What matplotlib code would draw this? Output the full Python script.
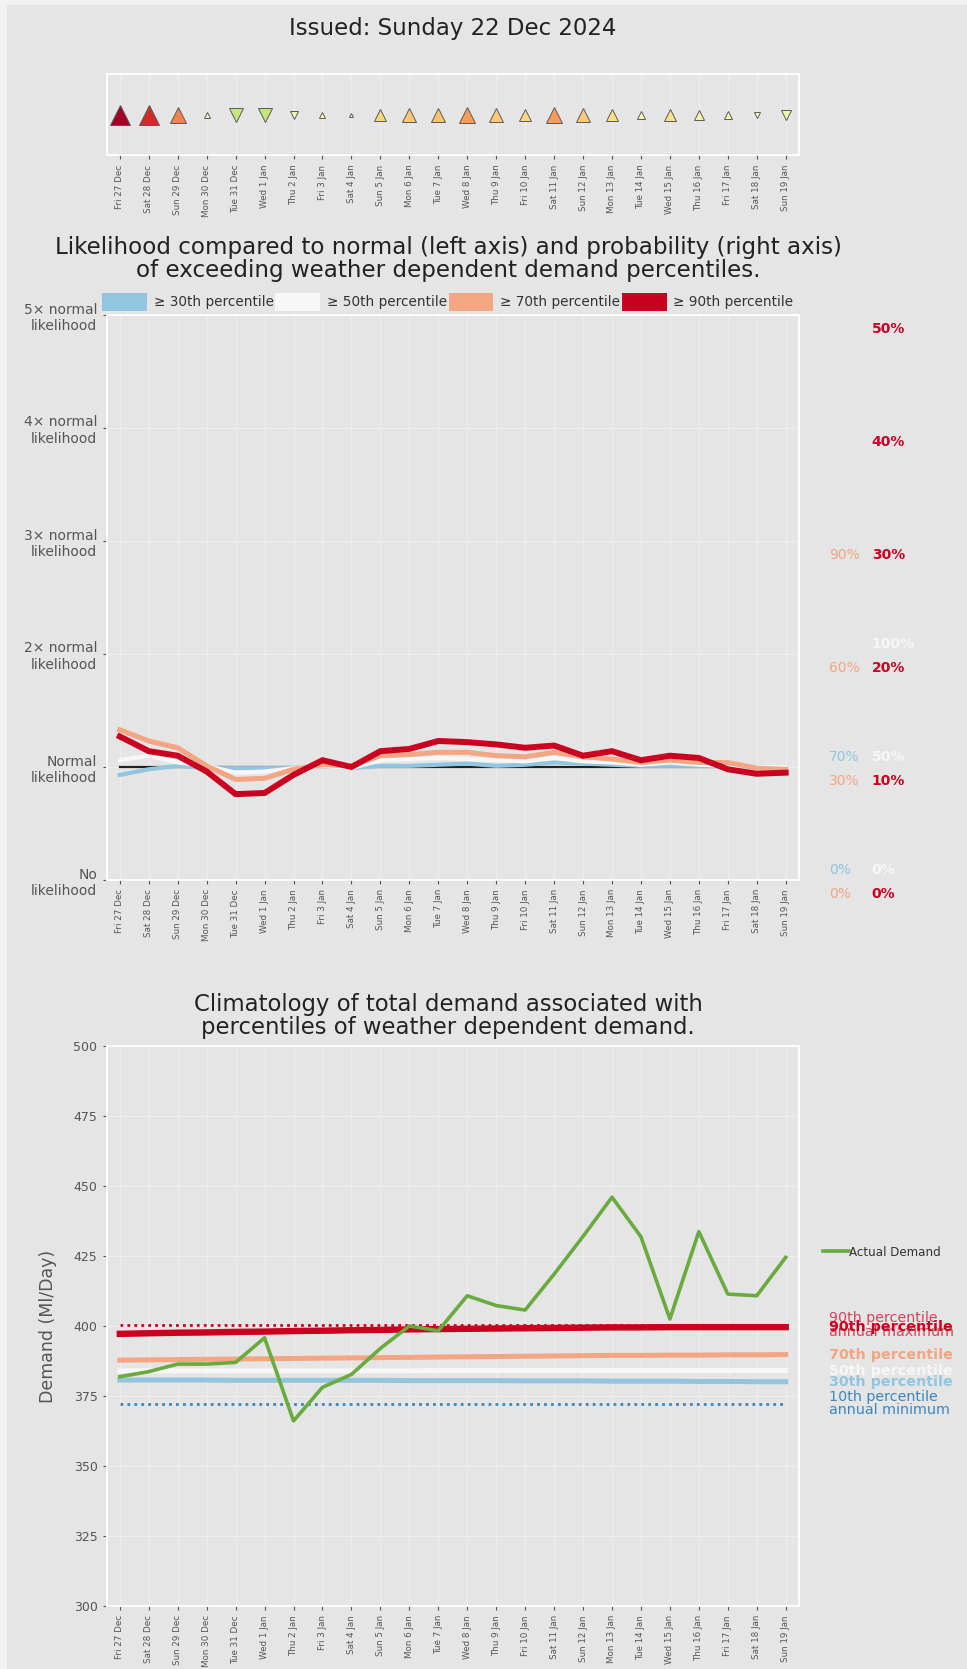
import numpy as np
import matplotlib
matplotlib.use("Agg")
import matplotlib.pyplot as plt
import matplotlib.transforms as mtransforms
from matplotlib.patches import Patch, Rectangle
from matplotlib.lines import Line2D

# ---------------------------------------------------------------- data
dates = ["Fri 27 Dec", "Sat 28 Dec", "Sun 29 Dec", "Mon 30 Dec", "Tue 31 Dec",
         "Wed 1 Jan", "Thu 2 Jan", "Fri 3 Jan", "Sat 4 Jan", "Sun 5 Jan",
         "Mon 6 Jan", "Tue 7 Jan", "Wed 8 Jan", "Thu 9 Jan", "Fri 10 Jan",
         "Sat 11 Jan", "Sun 12 Jan", "Mon 13 Jan", "Tue 14 Jan", "Wed 15 Jan",
         "Thu 16 Jan", "Fri 17 Jan", "Sat 18 Jan", "Sun 19 Jan"]

# daily outlook signal (+ above normal demand risk, - below)
signal = [1.00, 0.91, 0.76, 0.12, -0.56, -0.56, -0.28, 0.14, 0.03, 0.52,
          0.57, 0.60, 0.70, 0.57, 0.52, 0.70, 0.57, 0.49, 0.24, 0.49,
          0.32, 0.22, -0.15, -0.32]

# likelihood of exceeding each percentile, relative to normal
ratio_p30 = [0.93, 0.98, 1.01, 0.99, 0.99, 0.99, 0.99, 1.01, 0.99, 1.01,
             1.01, 1.02, 1.03, 1.01, 1.02, 1.04, 1.03, 1.02, 1.01, 1.01,
             1.01, 1.01, 1.00, 1.00]
ratio_p50 = [1.06, 1.10, 1.04, 1.01, 0.95, 0.96, 0.99, 1.01, 0.99, 1.06,
             1.07, 1.08, 1.07, 1.06, 1.05, 1.08, 1.05, 1.04, 1.02, 1.04,
             1.02, 1.01, 1.00, 1.00]
ratio_p70 = [1.33, 1.23, 1.17, 1.01, 0.89, 0.90, 0.98, 1.02, 1.01, 1.10,
             1.11, 1.13, 1.13, 1.10, 1.09, 1.13, 1.09, 1.07, 1.04, 1.06,
             1.04, 1.04, 0.99, 0.98]
ratio_p90 = [1.27, 1.14, 1.10, 0.96, 0.76, 0.77, 0.93, 1.06, 1.00, 1.14,
             1.16, 1.23, 1.22, 1.20, 1.17, 1.19, 1.10, 1.14, 1.06, 1.10,
             1.08, 0.98, 0.94, 0.95]

# normal probability (%) of exceeding each percentile
normal_prob = [70, 50, 30, 10]
pct_names = ["30th", "50th", "70th", "90th"]

# climatological total demand (Ml/day) at each percentile
demand_p30 = [380.7, 380.7, 380.7, 380.7, 380.6, 380.6, 380.6, 380.6, 380.6, 380.6,
              380.5, 380.5, 380.5, 380.5, 380.4, 380.4, 380.4, 380.3, 380.3, 380.3,
              380.2, 380.2, 380.1, 380.1]
demand_p50 = [384.0, 384.0, 384.0, 384.0, 384.0, 384.0, 384.0, 384.0, 384.0, 384.0,
              384.0, 384.1, 384.1, 384.1, 384.1, 384.1, 384.1, 384.1, 384.1, 384.1,
              384.1, 384.1, 384.1, 384.1]
demand_p70 = [387.8, 387.9, 388.0, 388.1, 388.2, 388.3, 388.4, 388.5, 388.6, 388.7,
              388.8, 388.9, 389.0, 389.1, 389.2, 389.3, 389.4, 389.5, 389.5, 389.6,
              389.6, 389.7, 389.7, 389.8]
demand_p90 = [397.2, 397.4, 397.6, 397.7, 397.9, 398.0, 398.2, 398.3, 398.5, 398.6,
              398.8, 398.9, 399.0, 399.1, 399.2, 399.3, 399.4, 399.5, 399.5, 399.6,
              399.6, 399.6, 399.6, 399.6]
annual_max = 400.3
annual_min = 372.3

actual_demand = [381.9, 383.7, 386.4, 386.4, 387.0, 395.8, 366.1, 378.1, 382.7, 392.0,
                 400.0, 398.3, 410.8, 407.3, 405.7, 418.5, 432.0, 446.0, 431.9, 402.5,
                 433.7, 411.4, 410.8, 424.5]

likelihood_ticks = [0, 1, 2, 3, 4, 5]
likelihood_labels = ["No\nlikelihood", "Normal\nlikelihood", "2\u00d7 normal\nlikelihood",
                     "3\u00d7 normal\nlikelihood", "4\u00d7 normal\nlikelihood",
                     "5\u00d7 normal\nlikelihood"]
demand_ticks = [300, 325, 350, 375, 400, 425, 450, 475, 500]

# ---------------------------------------------------------------- style
BG = "#e5e5e5"
GREY = "#555555"
C30, C50, C70, C90 = "#92c5de", "#f7f7f7", "#f4a582", "#ca0020"
C10 = "#3a86c0"
GREEN = "#6aab3f"
pct_colors = [C30, C50, C70, C90]

plt.rcParams["font.family"] = ["DejaVu Sans"]

W, H = 967, 1669
fig = plt.figure(figsize=(W / 100, H / 100), dpi=100, facecolor=BG)
fig.patches.append(Rectangle((0, 0), 7 / W, 1, transform=fig.transFigure,
                             facecolor="#f2f2f2", edgecolor="none", zorder=-5))
fig.patches.append(Rectangle((0, 1 - 5 / H), 1, 5 / H, transform=fig.transFigure,
                             facecolor="#f2f2f2", edgecolor="none", zorder=-5))

left = 106.5 / W
width = 692.5 / W


def frac_box(top_px, bottom_px):
    return [left, 1 - bottom_px / H, width, (bottom_px - top_px) / H]


def style_axes(ax):
    ax.set_facecolor(BG)
    for sp in ax.spines.values():
        sp.set_color("white")
        sp.set_linewidth(1.3)
    ax.grid(True, color="white", alpha=0.35, lw=0.8)
    ax.set_axisbelow(True)
    ax.tick_params(colors=GREY, length=3, width=0.8)
    ax.set_xlim(-0.46, len(dates) - 0.54)
    ax.set_xticks(range(len(dates)))
    ax.set_xticklabels(dates, rotation=90, fontsize=6.3, color=GREY)


x = np.arange(len(dates))

# ---------------------------------------------------------------- outlook strip
ax0 = fig.add_axes(frac_box(74.5, 155.5))
style_axes(ax0)
ax0.set_ylim(-1, 1)
ax0.set_yticks([])
ax0.grid(axis="y", visible=False)
cmap = plt.get_cmap("RdYlGn_r")
for i, s in enumerate(signal):
    strength = abs(s)
    ax0.plot(x[i], 0, linestyle="none", marker="^" if s >= 0 else "v",
             ms=2.5 + 12.5 * strength,
             color=cmap(0.5 + 0.5 * np.sign(s) * strength ** 2.2),
             mec="#5a5a5a", mew=0.7)

fig.text(452.7 / W, 1 - 29 / H, "Issued: Sunday 22 Dec 2024", ha="center",
         va="center", fontsize=16.5, color="#222222")

# ---------------------------------------------------------------- likelihood panel
ax1 = fig.add_axes(frac_box(315, 880))
style_axes(ax1)
ax1.set_ylim(0, 5)
ax1.set_yticks(likelihood_ticks)
ax1.set_yticklabels(likelihood_labels, fontsize=10, color=GREY, ha="right",
                    multialignment="right")

ax1.plot(x, np.ones(len(x)), color="#222222", lw=1.6, zorder=2)
for vals, col, lw in zip([ratio_p30, ratio_p50, ratio_p70, ratio_p90],
                         pct_colors, [3.0, 3.0, 3.6, 4.3]):
    ax1.plot(x, vals, color=col, lw=lw, solid_joinstyle="miter", zorder=3)

fig.text(448 / W, 1 - 259 / H,
         "Likelihood compared to normal (left axis) and probability (right axis)\n"
         "of exceeding weather dependent demand percentiles.",
         ha="center", va="center", fontsize=16.6, color="#222222",
         linespacing=1.05)

handles = [Patch(facecolor=c, edgecolor="none") for c in pct_colors]
labels = [f"\u2265 {n} percentile" for n in pct_names]
ax1.legend(handles, labels, ncol=4, loc="lower left", bbox_to_anchor=(-0.012, 1.0),
           frameon=False, fontsize=9.8, handlelength=3.3, handleheight=1.7,
           columnspacing=0.1, handletextpad=0.5, borderaxespad=0.2,
           borderpad=0.1, labelcolor="#333333")

# probability labels on the right
trans1 = mtransforms.blended_transform_factory(ax1.transAxes, ax1.transData)
label_cols = {"30th": (1.043, "bottom", "normal", 2.5),
              "50th": (1.105, "bottom", "bold", 2.5),
              "70th": (1.043, "top", "normal", -5.0),
              "90th": (1.105, "top", "bold", -5.0)}
for name, p, col in zip(pct_names, normal_prob, pct_colors):
    xpos, va, weight, dy = label_cols[name]
    shift = trans1 + mtransforms.ScaledTranslation(0, dy / 72, fig.dpi_scale_trans)
    for k in likelihood_ticks:
        if k * p > 100:
            break
        ax1.text(xpos, k, f"{k * p}%", transform=shift, ha="left", va=va,
                 fontsize=10, color=col, fontweight=weight, clip_on=False)

# ---------------------------------------------------------------- demand panel
ax2 = fig.add_axes(frac_box(1046, 1606))
style_axes(ax2)
ax2.set_ylim(300, 500)
ax2.set_yticks(demand_ticks)
ax2.set_yticklabels([str(t) for t in demand_ticks], fontsize=9, color=GREY)
ax2.set_ylabel("Demand (Ml/Day)", fontsize=12.5, color=GREY)
ax2.yaxis.set_label_coords(-0.071, 0.5)

ax2.plot(x, [annual_max] * len(x), color=C90, lw=2, ls=(0, (1, 1.5)), zorder=3)
ax2.plot(x, [annual_min] * len(x), color=C10, lw=2, ls=(0, (1, 1.5)), zorder=3)
for vals, col, lw in zip([demand_p30, demand_p50, demand_p70, demand_p90],
                         pct_colors, [3.6, 3.6, 3.6, 4.6]):
    ax2.plot(x, vals, color=col, lw=lw, zorder=3)
ax2.plot(x, actual_demand, color=GREEN, lw=2.6, zorder=4)

fig.text(448 / W, 1 - 1016 / H,
         "Climatology of total demand associated with\n"
         "percentiles of weather dependent demand.",
         ha="center", va="center", fontsize=16.4, color="#222222",
         linespacing=1.05)

ax2.legend([Line2D([], [], color=GREEN, lw=2.6)], ["Actual Demand"],
           loc="center left", bbox_to_anchor=(1.028, 0.632), frameon=False,
           fontsize=8.6, handlelength=2.2, handletextpad=0.0, borderaxespad=0,
           labelcolor="#333333")

trans2 = mtransforms.blended_transform_factory(ax2.transAxes, ax2.transData)
xl = 1.043
ax2.text(xl, annual_max, "90th percentile\nannual maximum", transform=trans2,
         ha="left", va="center", fontsize=10.3, color="#d8435c", linespacing=0.95)
ax2.text(xl, demand_p90[-1], "90th percentile", transform=trans2, ha="left",
         va="center", fontsize=10.3, color=C90, fontweight="bold")
ax2.text(xl, demand_p70[-1], "70th percentile", transform=trans2, ha="left",
         va="center", fontsize=10.3, color=C70, fontweight="bold")
ax2.text(xl, demand_p50[-1], "50th percentile", transform=trans2, ha="left",
         va="center", fontsize=10.3, color=C50, fontweight="bold")
ax2.text(xl, demand_p30[-1], "30th percentile", transform=trans2, ha="left",
         va="center", fontsize=10.3, color=C30, fontweight="bold")
ax2.text(xl, annual_min, "10th percentile\nannual minimum", transform=trans2,
         ha="left", va="center", fontsize=10.3, color=C10, linespacing=0.95)

fig.savefig("out.png", dpi=100, facecolor=BG)
